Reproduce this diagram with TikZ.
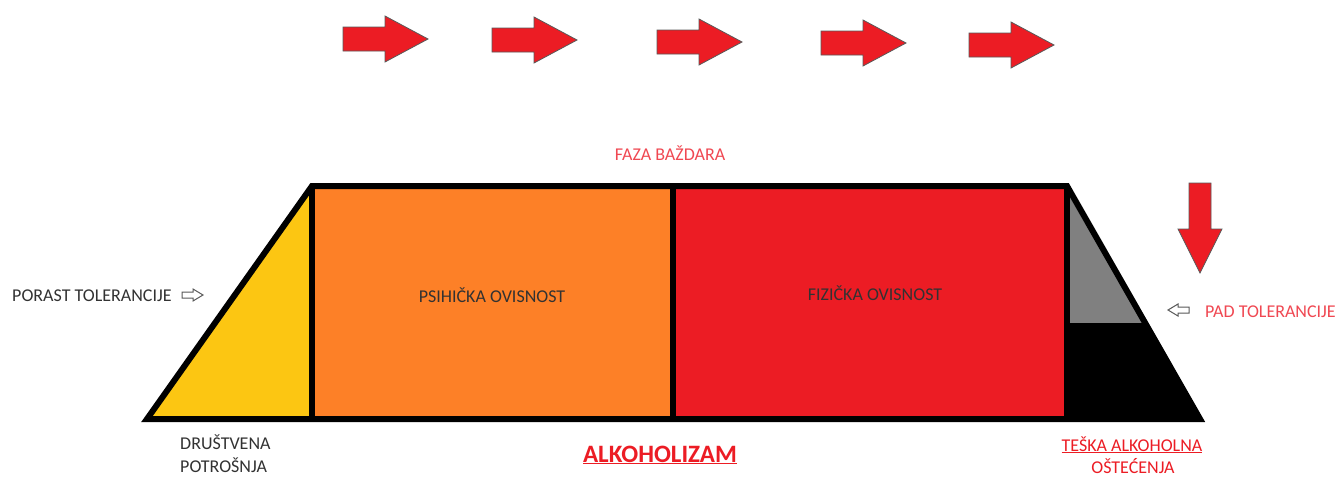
\documentclass[tikz,border=0pt]{standalone}
\usepackage{fontspec}
\setmainfont{Carlito}
\definecolor{cyel}{RGB}{252,198,18}
\definecolor{corg}{RGB}{253,128,39}
\definecolor{cred}{RGB}{236,28,36}
\definecolor{cgray}{RGB}{128,128,128}
\definecolor{ctxt}{RGB}{50,50,50}
\definecolor{clred}{RGB}{240,72,82}
\tikzset{
  outline/.style={line width=6pt, line join=miter},
  redarrow/.style={fill=cred, draw=black!65, line width=0.8pt},
  hollowarrow/.style={fill=white, draw=black!65, line width=1pt},
  lbl/.style={font=\fontsize{18}{22}\selectfont, text=ctxt, inner sep=0pt},
  rarrow/.pic={\draw[redarrow] (0,-12) -- (42,-12) -- (42,-23) -- (85,0) -- (42,23) -- (42,12) -- (0,12) -- cycle;},
  harrow/.pic={\draw[hollowarrow] (0,-3) -- (11,-3) -- (11,-6) -- (21,0) -- (11,6) -- (11,3) -- (0,3) -- cycle;}
}
\begin{document}
\begin{tikzpicture}[x=1pt,y=-1pt]
\useasboundingbox[fill=white] (0,0) rectangle (1343,477);
% top arrows
\pic at (343,39) {rarrow};
\pic at (492,40) {rarrow};
\pic at (657,42) {rarrow};
\pic at (821,43) {rarrow};
\pic at (969,45) {rarrow};
% fills
\fill[cyel] (147,419) -- (312,186) -- (312,419) -- cycle;
\fill[corg] (312,186) rectangle (673,419);
\fill[cred] (673,186) rectangle (1067,419);
\fill[black] (1067,186) -- (1200,419) -- (1067,419) -- cycle;
\fill[cgray] (1067,186) -- (1145,323) -- (1067,323) -- cycle;
\draw[black, line width=1pt] (1067,323) -- (1145,323);
% outline and dividers
\draw[outline] (147,419) -- (312,186) -- (1067,186) -- (1200,419) -- cycle;
\draw[line width=6pt] (312,186) -- (312,419);
\draw[line width=6pt] (673,186) -- (673,419);
\draw[line width=6pt] (1067,186) -- (1067,419);
% down arrow
\draw[redarrow] (1189,183) -- (1211,183) -- (1211,229) -- (1222,229) -- (1200,273) -- (1178,229) -- (1189,229) -- cycle;
% hollow arrows
\pic at (182,295) {harrow};
\pic[xscale=-1] at (1189,310) {harrow};
% labels
\node[lbl, anchor=base west] (porast) at (12,301) {PORAST TOLERANCIJE};
\node[lbl, anchor=base west, text=clred] (pad) at (1205,317) {PAD TOLERANCIJE};
\node[lbl, anchor=base] (psih) at (492,302) {PSIHI\v{C}KA OVISNOST};
\node[lbl, anchor=base] (fiz) at (875,300) {FIZI\v{C}KA OVISNOST};
\node[lbl, anchor=base, text=clred] (faza) at (670,160) {FAZA BA\v{Z}DARA};
\node[lbl, anchor=base west] (drus) at (180,449) {DRU\v{S}TVENA};
\node[lbl, anchor=base west] (potr) at (180,472) {POTRO\v{S}NJA};
\node[lbl, font=\fontsize{25}{30}\selectfont\bfseries, text=cred, anchor=base] (alk) at (660,462) {\underline{ALKOHOLIZAM}};
\node[lbl, text=cred, anchor=base] (teska) at (1132,451) {\underline{TE\v{S}KA ALKOHOLNA}};
\node[lbl, text=cred, anchor=base] (ost) at (1133,473) {O\v{S}TE\'{C}ENJA};
\end{tikzpicture}
\end{document}
